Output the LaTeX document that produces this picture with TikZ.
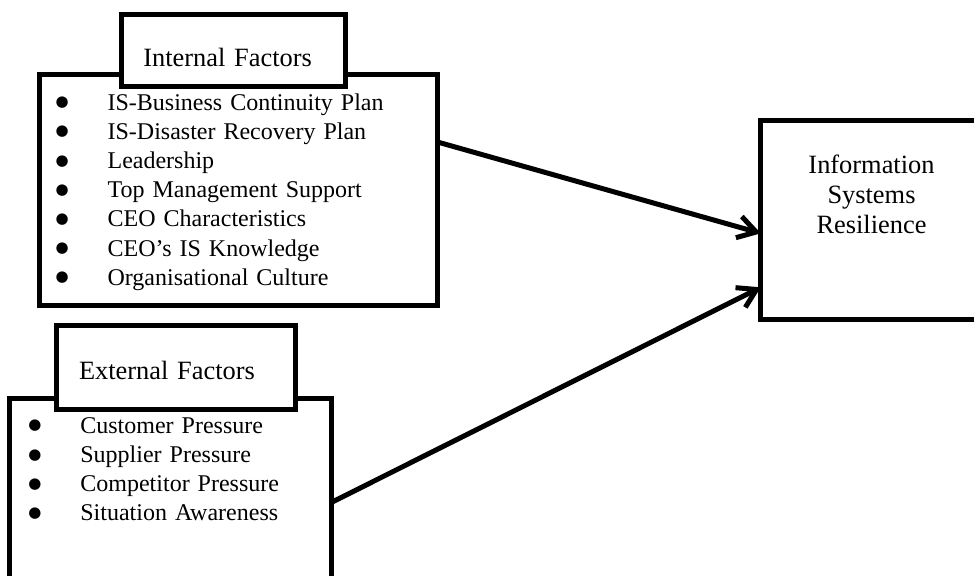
\documentclass[tikz,border=0pt]{standalone}
\usepackage{fontspec}
\setmainfont{Liberation Serif}
\newfontfamily\symfont{DejaVu Sans}
\usetikzlibrary{arrows.meta,calc}

\tikzset{
  box/.style={draw, line width=2.5pt, fill=white, inner ysep=0pt, outer sep=0pt, anchor=north west, align=left},
  listfont/.style={font=\fontsize{12}{14.6}\selectfont},
  headfont/.style={font=\fontsize{13.2}{15}\selectfont},
  link/.style={-{Straight Barb[length=9pt,width=11pt]}, line width=2.5pt}
}
\newcommand{\bul}{\makebox[26pt][l]{\raisebox{1.7pt}{\symfont\fontsize{7.5}{7.5}\selectfont ●}}}

\begin{document}
\begin{tikzpicture}[x=0.5pt,y=-0.5pt]
\useasboundingbox (0,0) rectangle (974,575);
\clip (0,0) rectangle (974,575);

% internal factors
\node[box, listfont, inner xsep=8.3pt, text width=182.65pt, text height=18pt, text depth=97.75pt] (internal) at (39,74) {
  \bul IS-Business Continuity Plan\\
  \bul IS-Disaster Recovery Plan\\
  \bul Leadership\\
  \bul Top Management Support\\
  \bul CEO Characteristics\\
  \bul CEO’s IS Knowledge\\
  \bul Organisational Culture
};
\node[box, headfont, inner xsep=10.9pt, text width=90.2pt, text height=26.3pt, text depth=9.9pt] (inttitle) at (121.5,14) {Internal Factors};

% external factors
\node[box, listfont, inner xsep=9.3pt, text width=142.4pt, text height=17.5pt, text depth=110pt] (external) at (9.8,398.2) {
  \bul Customer Pressure\\
  \bul Supplier Pressure\\
  \bul Competitor Pressure\\
  \bul Situation Awareness
};
\node[box, headfont, inner xsep=11.1pt, text width=97pt, text height=26.6pt, text depth=15.1pt] (exttitle) at (56.8,325.8) {External Factors};

% outcome
\node[box, headfont, align=center, inner xsep=0pt, text width=110.7pt, text height=26.5pt, text depth=72.95pt] (outcome) at (760.8,120.3) {Information\\Systems\\Resilience};

\draw[link] ($(internal.north east)+(0,68)$) -- ($(outcome.north west)+(0,113)$);
\draw[link] ($(external.north east)+(0,104)$) -- ($(outcome.north west)+(0,167)$);
\end{tikzpicture}
\end{document}
